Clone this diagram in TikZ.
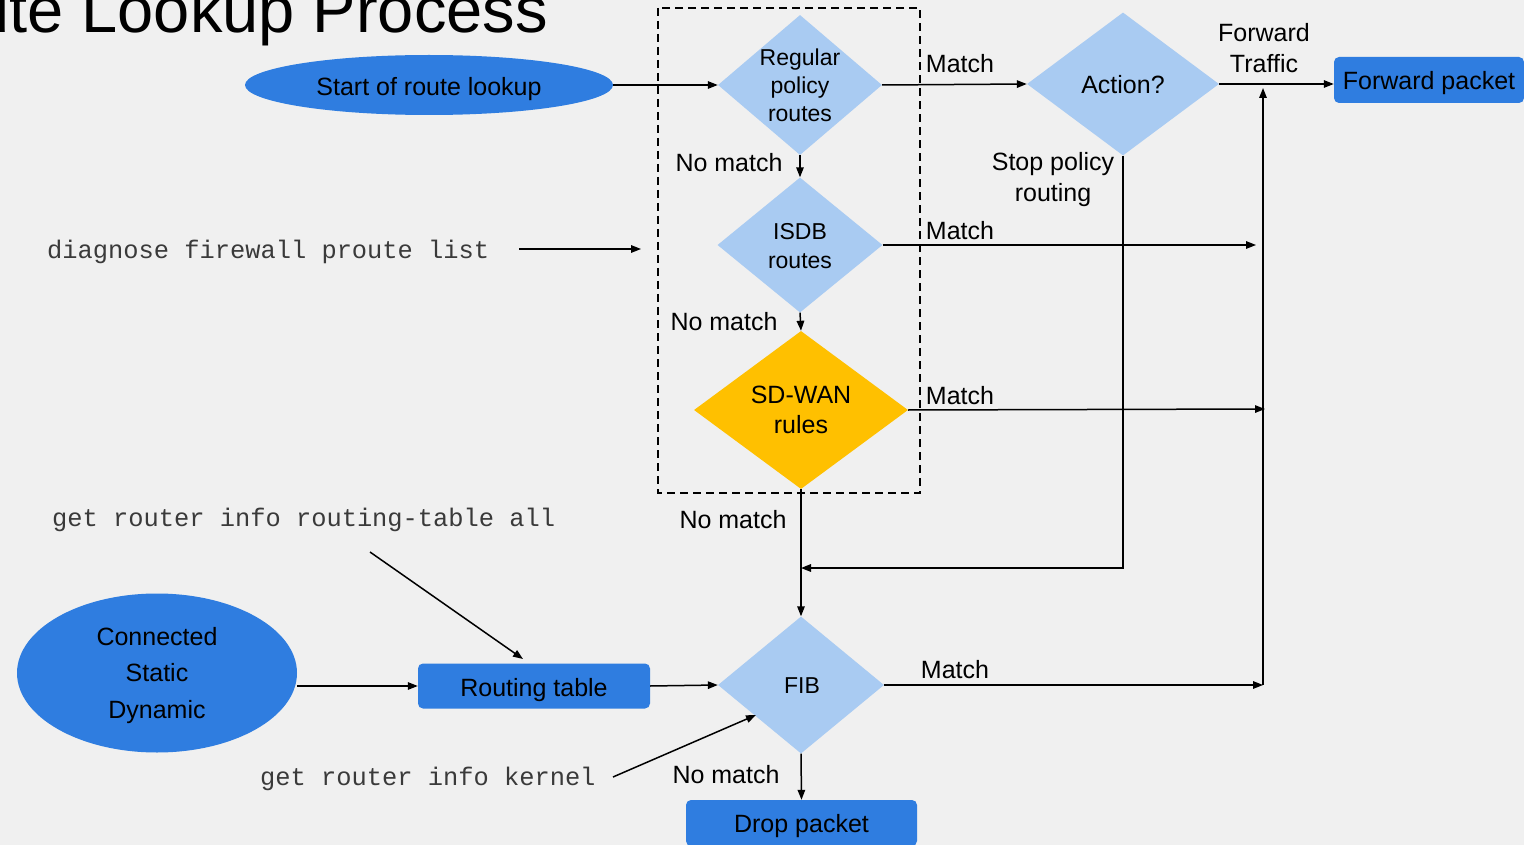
\documentclass[tikz,border=0pt]{standalone}
\usepackage{fontspec}
\setmainfont{Liberation Sans}
\setmonofont{Liberation Mono}
\usetikzlibrary{shapes.geometric,arrows.meta}
\definecolor{bg}{HTML}{F0F0F0}
\definecolor{dblue}{HTML}{2F7DE0}
\definecolor{lblue}{HTML}{A9CBF2}
\definecolor{orng}{HTML}{FFC000}
\definecolor{cmdgray}{HTML}{3A3A3A}
\begin{document}
\begin{tikzpicture}[x=1pt,y=-1pt,
  arr/.style={draw=black, line width=1.5pt, -{Triangle[length=10pt,width=7.5pt]}},
  dia/.style={diamond, fill=lblue, inner sep=0pt},
  box/.style={rectangle, rounded corners=5pt, fill=dblue, inner sep=0pt},
  ell/.style={ellipse, fill=dblue, inner sep=0pt},
  lab/.style={font=\fontsize{25}{30}\selectfont, inner sep=0pt},
  cmd/.style={font=\ttfamily\fontsize{25.4}{30}\selectfont, text=cmdgray, inner sep=0pt},
  grp/.style={draw=black, line width=1.5pt, dash pattern=on 8pt off 5pt}
]
\useasboundingbox (0,0) rectangle (1524,845);
\fill[bg] (0,0) rectangle (1524,845);
\clip (0,0) rectangle (1524,845);

% title (clipped at the left and top, as in the reference)
\node[anchor=base east, inner sep=0pt, font=\fontsize{65}{70}\selectfont] (title) at (548,33) {Route Lookup Process};

% dashed group
\draw[grp] (658,8) rectangle (920,493);

% decision diamonds
\node[dia, minimum width=164pt, minimum height=140pt] (rpr) at (800,85) {};
\node[lab, anchor=north, align=center, font=\fontsize{23}{28}\selectfont] (rprt) at (800,49) {Regular\\policy\\routes};
\node[dia, minimum width=165pt, minimum height=135pt] (isdb) at (800,245) {};
\node[lab, anchor=north, align=center, font=\fontsize{23}{29}\selectfont] (isdbt) at (800,223) {ISDB\\routes};
\node[dia, fill=orng, minimum width=214pt, minimum height=158pt] (sdwan) at (801,410) {};
\node[lab, anchor=north, align=center, font=\fontsize{25}{30}\selectfont] (sdwant) at (801,386) {SD-WAN\\rules};
\node[dia, minimum width=192pt, minimum height=143pt] (act) at (1123,84) {};
\node[lab] (actt) at (1123,85) {Action?};
\node[dia, minimum width=166pt, minimum height=137pt] (fib) at (801,685) {};
\node[lab, font=\fontsize{23}{28}\selectfont] (fibt) at (802,686) {FIB};

% boxes and ellipses
\node[ell, minimum width=368pt, minimum height=60pt] (start) at (429,85) {};
\node[lab] (startt) at (429,89) {Start of route lookup};
\node[box, minimum width=190pt, minimum height=46pt] (fwd) at (1429,80) {};
\node[lab] (fwdt) at (1429,83) {Forward packet};
\node[box, minimum width=232pt, minimum height=45pt] (rt) at (534,686) {};
\node[lab] (rtt) at (534,690) {Routing table};
\node[box, minimum width=231pt, minimum height=46pt] (drop) at (801.5,823) {};
\node[lab] (dropt) at (801.5,826) {Drop packet};
\node[ell, minimum width=280pt, minimum height=159pt] (src) at (157,673) {};
\node[lab, anchor=north, align=center, font=\fontsize{25}{36.5}\selectfont] (srct) at (157,627) {Connected\\Static\\Dynamic};

% labels
\node[lab] (m1) at (960,64) {Match};
\node[lab] (m2) at (960,231) {Match};
\node[lab] (m3) at (960,396) {Match};
\node[lab] (m4) at (955,670) {Match};
\node[lab] (n1) at (729,163) {No match};
\node[lab] (n2) at (724,322) {No match};
\node[lab] (n3) at (733,520) {No match};
\node[lab] (n4) at (726,775) {No match};
\node[lab, anchor=north, align=center, font=\fontsize{25}{31}\selectfont] (ft) at (1264,23) {Forward\\Traffic};
\node[lab, anchor=north, align=center, font=\fontsize{25}{31}\selectfont] (sp) at (1053,152) {Stop policy\\routing};

% command texts
\node[cmd, anchor=west] (c1) at (47,252) {diagnose firewall proute list};
\node[cmd, anchor=west] (c2) at (52,520) {get router info routing-table all};
\node[cmd, anchor=west] (c3) at (260,779) {get router info kernel};

% coordinates
\coordinate (vtop) at (1263,88);
\coordinate (isdbend) at (1256,245);
\coordinate (sdwend) at (1265,409);
\coordinate (fibend) at (1263,685);
\coordinate (join) at (801,568);
\coordinate (c1a) at (519,249);
\coordinate (c1b) at (641,249);
\coordinate (c2a) at (370,552);
\coordinate (c2b) at (523,659);
\coordinate (c3a) at (613,777);
\coordinate (c3b) at (756,715);

% connectors
\draw[arr] (start.east) -- (rpr.west);
\draw[arr] (rpr.east) -- (act.west);
\draw[arr] (act.east) -- (act.east -| fwd.west);
\draw[arr] (rpr.south) -- (isdb.north);
\draw[arr] (isdb.south) -- (sdwan.north);
\draw[arr] (sdwan.south) -- (fib.north);
\draw[arr] (isdb.east) -- (isdbend);
\draw[arr] (sdwan.east) -- (sdwend);
\draw[arr] (fib.east) -- (fibend);
\draw[arr] (fibend) -- (vtop);
\draw[arr] (act.south) |- (join);
\draw[arr] (fib.south) -- (drop.north);
\draw[arr] (rt.west -| src.east) -- (rt.west);
\draw[arr] (rt.east) -- (fib.west);
\draw[arr] (c1a) -- (c1b);
\draw[arr] (c2a) -- (c2b);
\draw[arr] (c3a) -- (c3b);
\end{tikzpicture}
\end{document}
